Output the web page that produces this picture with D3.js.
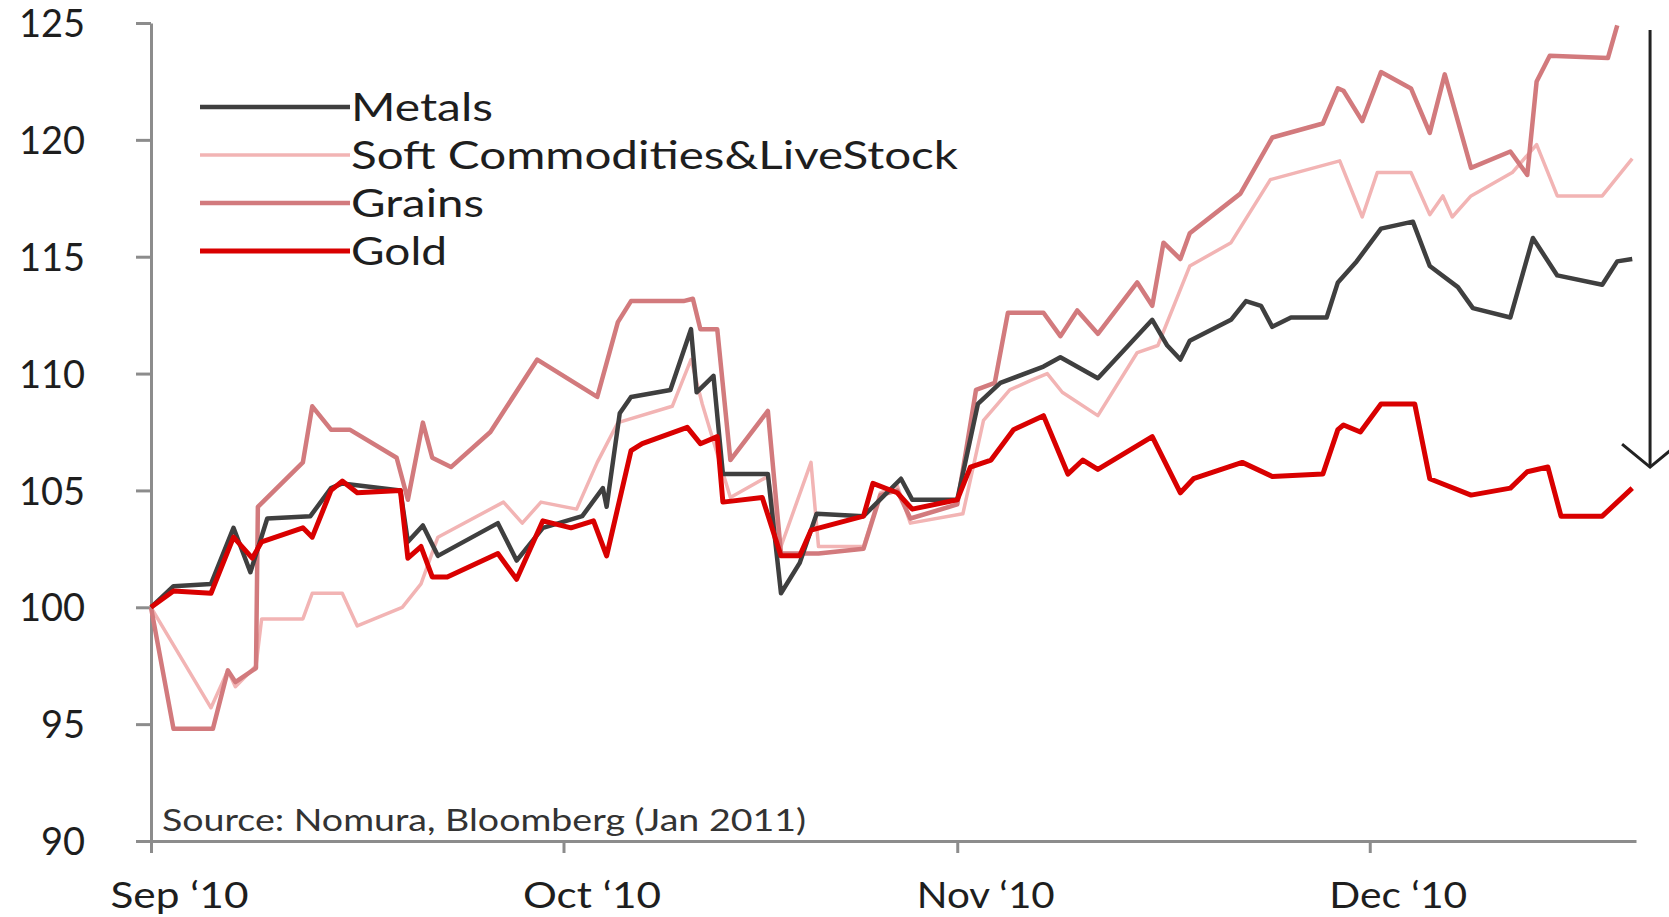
<!DOCTYPE html>
<html>
<head>
<meta charset="utf-8">
<script src="https://cdn.jsdelivr.net/npm/d3@7"></script>
<style>
  html, body { margin: 0; padding: 0; background: #fff; }
  svg { display: block; font-family: Lato, "Open Sans", sans-serif; }
  .axis .domain, .axis .tick line { stroke: #8c8c8c; stroke-width: 3; }
  .axis text { fill: #1e1e1e; font-family: Lato, "Open Sans", sans-serif; }
</style>
</head>
<body>
<svg id="chart" width="1669" height="917"></svg>
<script>
// Index (Sep 1 2010 = 100), x = trading day since 1 Sep
const yTicks = [90, 95, 100, 105, 110, 115, 120, 125];
const monthTicks = [0, 22, 43, 65];
const monthLabels = ["Sep \u201810", "Oct \u201810", "Nov \u201810", "Dec \u201810"];

const metals = [[0,100],[1.2,100.9],[3.2,101.0],[4.4,103.4],[5.3,101.5],[6.2,103.8],[8.5,103.9],[9.6,105.1],[10.2,105.3],[13.3,105.0],[13.7,102.8],[14.5,103.5],[15.3,102.2],[18.5,103.6],[19.5,102.0],[20.9,103.4],[23.0,103.9],[24.1,105.1],[24.3,104.3],[25.0,108.3],[25.6,109.0],[27.7,109.3],[28.8,111.9],[29.1,109.2],[30.0,109.9],[30.5,105.7],[32.9,105.7],[33.6,100.6],[34.6,101.9],[35.5,104.0],[38.0,103.9],[40.0,105.5],[40.6,104.6],[43.0,104.6],[44.1,108.7],[45.3,109.6],[47.6,110.3],[48.5,110.7],[50.5,109.8],[53.4,112.3],[54.2,111.2],[54.9,110.6],[55.4,111.4],[57.6,112.3],[58.4,113.1],[59.2,112.9],[59.8,112.0],[60.8,112.4],[62.7,112.4],[63.3,113.9],[64.3,114.8],[65.6,116.2],[67.3,116.5],[68.2,114.6],[69.7,113.7],[70.5,112.8],[72.5,112.4],[73.7,115.8],[75.0,114.2],[77.4,113.8],[78.2,114.8],[79.0,114.9]];

const softs = [[0,100],[3.2,95.7],[4.1,97.3],[4.5,96.6],[5.6,97.5],[5.9,99.5],[8.1,99.5],[8.6,100.6],[10.2,100.6],[11.0,99.2],[13.4,100.0],[14.4,101.0],[15.3,103.0],[18.8,104.5],[19.8,103.6],[20.8,104.5],[22.7,104.2],[23.8,106.2],[24.9,107.9],[27.8,108.6],[28.8,110.6],[29.4,108.7],[30.9,104.7],[32.9,105.6],[33.6,102.6],[35.2,106.2],[35.6,102.6],[38.0,102.6],[38.9,104.9],[39.8,105.2],[40.5,103.6],[43.3,104.0],[44.4,108.0],[45.8,109.3],[46.9,109.7],[47.8,110.0],[48.6,109.2],[50.5,108.2],[52.6,110.9],[53.7,111.2],[55.4,114.6],[57.6,115.6],[59.7,118.3],[63.4,119.1],[64.6,116.7],[65.4,118.6],[67.2,118.6],[68.2,116.8],[68.9,117.6],[69.4,116.7],[70.4,117.6],[72.6,118.6],[73.9,119.8],[75.0,117.6],[77.4,117.6],[79.0,119.2]];

const grains = [[0,100],[1.2,94.8],[3.3,94.8],[4.1,97.3],[4.5,96.8],[5.6,97.4],[5.7,104.3],[8.1,106.2],[8.6,108.6],[9.6,107.6],[10.6,107.6],[13.1,106.4],[13.7,104.6],[14.5,107.9],[15.0,106.4],[16.0,106.0],[18.1,107.5],[20.6,110.6],[23.8,109.0],[24.9,112.2],[25.6,113.1],[28.4,113.1],[28.9,113.2],[29.3,111.9],[30.2,111.9],[30.9,106.3],[32.9,108.4],[33.6,102.3],[35.6,102.3],[38.0,102.5],[38.9,104.8],[39.8,105.0],[40.5,103.8],[43.0,104.4],[44.0,109.3],[45.0,109.6],[45.7,112.6],[47.6,112.6],[48.5,111.6],[49.4,112.7],[50.5,111.7],[52.6,113.9],[53.4,112.9],[54.0,115.6],[54.9,114.9],[55.4,116.0],[58.1,117.7],[59.8,120.1],[62.5,120.7],[63.3,122.2],[63.6,122.1],[64.6,120.8],[65.6,122.9],[67.2,122.2],[68.2,120.3],[69.0,122.8],[70.4,118.8],[72.5,119.5],[73.4,118.5],[73.9,122.5],[74.6,123.6],[77.7,123.5],[78.2,124.9]];

const gold = [[0,100],[1.2,100.7],[3.2,100.6],[4.4,103.0],[5.4,102.1],[5.9,102.8],[8.1,103.4],[8.6,103.0],[9.6,105.0],[10.2,105.4],[11.0,104.9],[13.3,105.0],[13.7,102.1],[14.4,102.6],[15.0,101.3],[15.8,101.3],[18.5,102.3],[19.5,101.2],[20.9,103.7],[22.4,103.4],[23.6,103.7],[24.3,102.2],[25.6,106.7],[26.2,107.0],[28.6,107.7],[29.3,107.0],[30.2,107.3],[30.5,104.5],[32.6,104.7],[33.6,102.2],[34.6,102.2],[35.2,103.3],[38.0,103.9],[38.5,105.3],[39.8,104.9],[40.6,104.2],[43.0,104.6],[43.7,106.0],[44.8,106.3],[46.0,107.6],[47.6,108.2],[48.9,105.7],[49.7,106.3],[50.5,105.9],[53.4,107.3],[54.9,104.9],[55.6,105.5],[58.2,106.2],[59.8,105.6],[62.5,105.7],[63.3,107.6],[63.6,107.8],[64.5,107.5],[65.6,108.7],[67.4,108.7],[68.2,105.5],[70.4,104.8],[72.5,105.1],[73.4,105.8],[74.5,106.0],[75.2,103.9],[77.4,103.9],[79.0,105.1]];

// arrow annotation: from / to index level at the right edge
const arrowAt = 79.95;
const arrowFrom = 124.7;
const arrowTo = 106.0;

const series = [
  { name: "Metals", data: metals, color: "#3f3f3f", width: 4.5, textLen: 142 },
  { name: "Soft Commodities&LiveStock", data: softs, color: "#f2b4b4", width: 3.5, textLen: 607 },
  { name: "Grains", data: grains, color: "#d27a7d", width: 4.5, textLen: 133 },
  { name: "Gold", data: gold, color: "#d90000", width: 5, textLen: 96 }
];

const svg = d3.select("#chart");

const x = d3.scaleLinear().domain([0, 79.2]).range([151, 1636]);
const y = d3.scaleLinear().domain([90, 125]).range([841, 23]);

// axes
const yAxis = svg.append("g")
  .attr("class", "axis")
  .attr("transform", `translate(${x(0)},0)`)
  .call(d3.axisLeft(y).tickValues(yTicks).tickSize(15).tickSizeOuter(0).tickPadding(51));
yAxis.selectAll("text")
  .attr("font-size", 38)
  .attr("dy", "0.36em");

const xAxis = svg.append("g")
  .attr("class", "axis")
  .attr("transform", `translate(0,${y(90)})`)
  .call(d3.axisBottom(x).tickValues(monthTicks).tickSize(12).tickSizeOuter(0).tickPadding(29)
    .tickFormat((d, i) => monthLabels[i]));
xAxis.selectAll("text")
  .attr("font-size", 36)
  .attr("dx", 28)
  .attr("textLength", 138)
  .attr("lengthAdjust", "spacingAndGlyphs");

// source note
svg.append("text")
  .attr("x", 162)
  .attr("y", 831)
  .attr("font-size", 30)
  .attr("fill", "#333")
  .attr("textLength", 644)
  .attr("lengthAdjust", "spacingAndGlyphs")
  .text("Source: Nomura, Bloomberg (Jan 2011)");

// lines
const line = d3.line()
  .x(d => x(d[0]))
  .y(d => y(d[1]));

svg.selectAll("path.series")
  .data(series.slice(1, 3).concat([series[0], series[3]]))
  .enter()
  .append("path")
    .attr("class", "series")
    .attr("d", d => line(d.data))
    .attr("fill", "none")
    .attr("stroke", d => d.color)
    .attr("stroke-width", d => d.width)
    .attr("stroke-linejoin", "round");

// legend
const legend = svg.append("g").attr("transform", "translate(200,107)");
const rows = legend.selectAll("g")
  .data(series)
  .enter()
  .append("g")
    .attr("transform", (d, i) => `translate(0,${i * 48})`);

rows.append("line")
  .attr("x1", 0).attr("x2", 150)
  .attr("stroke", d => d.color)
  .attr("stroke-width", d => d.width);

rows.append("text")
  .attr("x", 151)
  .attr("y", 14)
  .attr("font-size", 38)
  .attr("fill", "#1e1e1e")
  .attr("textLength", d => d.textLen)
  .attr("lengthAdjust", "spacingAndGlyphs")
  .text(d => d.name);

// arrow
const ax = x(arrowAt);
svg.append("line")
  .attr("x1", ax).attr("x2", ax)
  .attr("y1", y(arrowFrom)).attr("y2", y(arrowTo))
  .attr("stroke", "#222").attr("stroke-width", 3);
svg.append("path")
  .attr("d", `M${ax - 28},${y(arrowTo) - 23}L${ax},${y(arrowTo)}L${ax + 28},${y(arrowTo) - 23}`)
  .attr("fill", "none")
  .attr("stroke", "#222")
  .attr("stroke-width", 3);
</script>
</body>
</html>
